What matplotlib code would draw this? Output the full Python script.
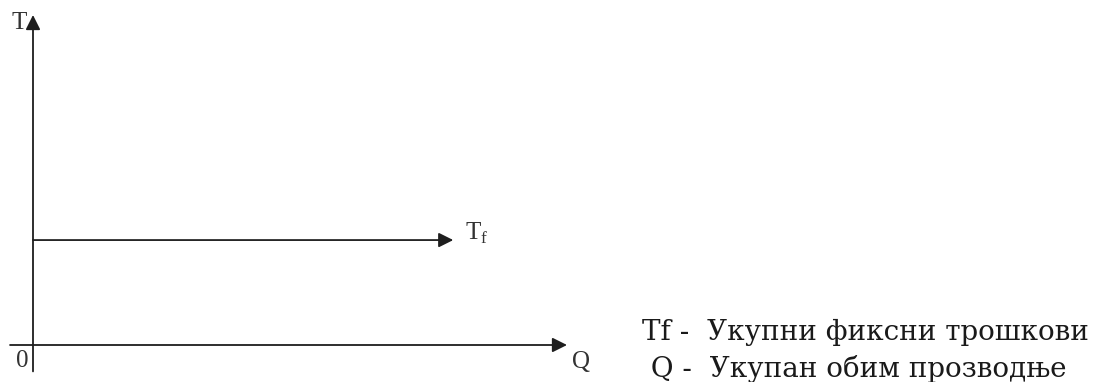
import matplotlib.pyplot as plt

# chart values (data units)
q_max = 10.0          # end of the Q axis
t_max = 10.0          # end of the T axis
q_neg = -0.43         # x axis starts a bit left of 0
t_neg = -0.8          # y axis goes a bit below 0
tf_level = 3.18       # fixed costs level
tf_end = 7.87         # where the Tf arrow stops

axis_labels = ["T", "Q", "0"]
legend_lines = ["Tf -  Укупни фиксни трошкови", " Q -  Укупан обим прозводње"]

W, H = 1093, 382
fig = plt.figure(figsize=(W / 100, H / 100), dpi=100)
ax = fig.add_axes([33 / W, (H - 345) / H, 534 / W, 330 / H])
ax.set_xlim(0, q_max)
ax.set_ylim(0, t_max)
ax.axis("off")

arrow = dict(arrowstyle="-|>", color="#1e1e1e", lw=1.3, mutation_scale=22,
             shrinkA=0, shrinkB=0)

# axes
ax.annotate("", xy=(q_max, 0), xytext=(q_neg, 0), arrowprops=arrow,
            annotation_clip=False)
ax.annotate("", xy=(0, t_max), xytext=(0, t_neg), arrowprops=arrow,
            annotation_clip=False)
# fixed costs
ax.annotate("", xy=(tf_end, tf_level), xytext=(0, tf_level), arrowprops=arrow,
            annotation_clip=False)

serif = "Liberation Serif"
ax.text(-0.26, 9.76, axis_labels[0], fontsize=18, family=serif,
        ha="center", va="center", color="#333333")
ax.text(q_max + 0.1, -0.52, axis_labels[1], fontsize=18, family=serif,
        ha="left", va="center", color="#333333")
ax.text(-0.21, -0.48, axis_labels[2], fontsize=18, family=serif,
        ha="center", va="center", color="#333333")
ax.text(tf_end + 0.22, tf_level, r"T$_\mathregular{f}$", fontsize=18,
        family=serif, ha="left", va="baseline", color="#333333")

fig.text(642 / W, 1 - 340 / H, legend_lines[0], fontsize=20,
         family="DejaVu Serif", ha="left", va="baseline", color="#1a1a1a")
fig.text(642 / W, 1 - 377 / H, legend_lines[1], fontsize=20,
         family="DejaVu Serif", ha="left", va="baseline", color="#1a1a1a")

fig.savefig("out.png", dpi=100)
